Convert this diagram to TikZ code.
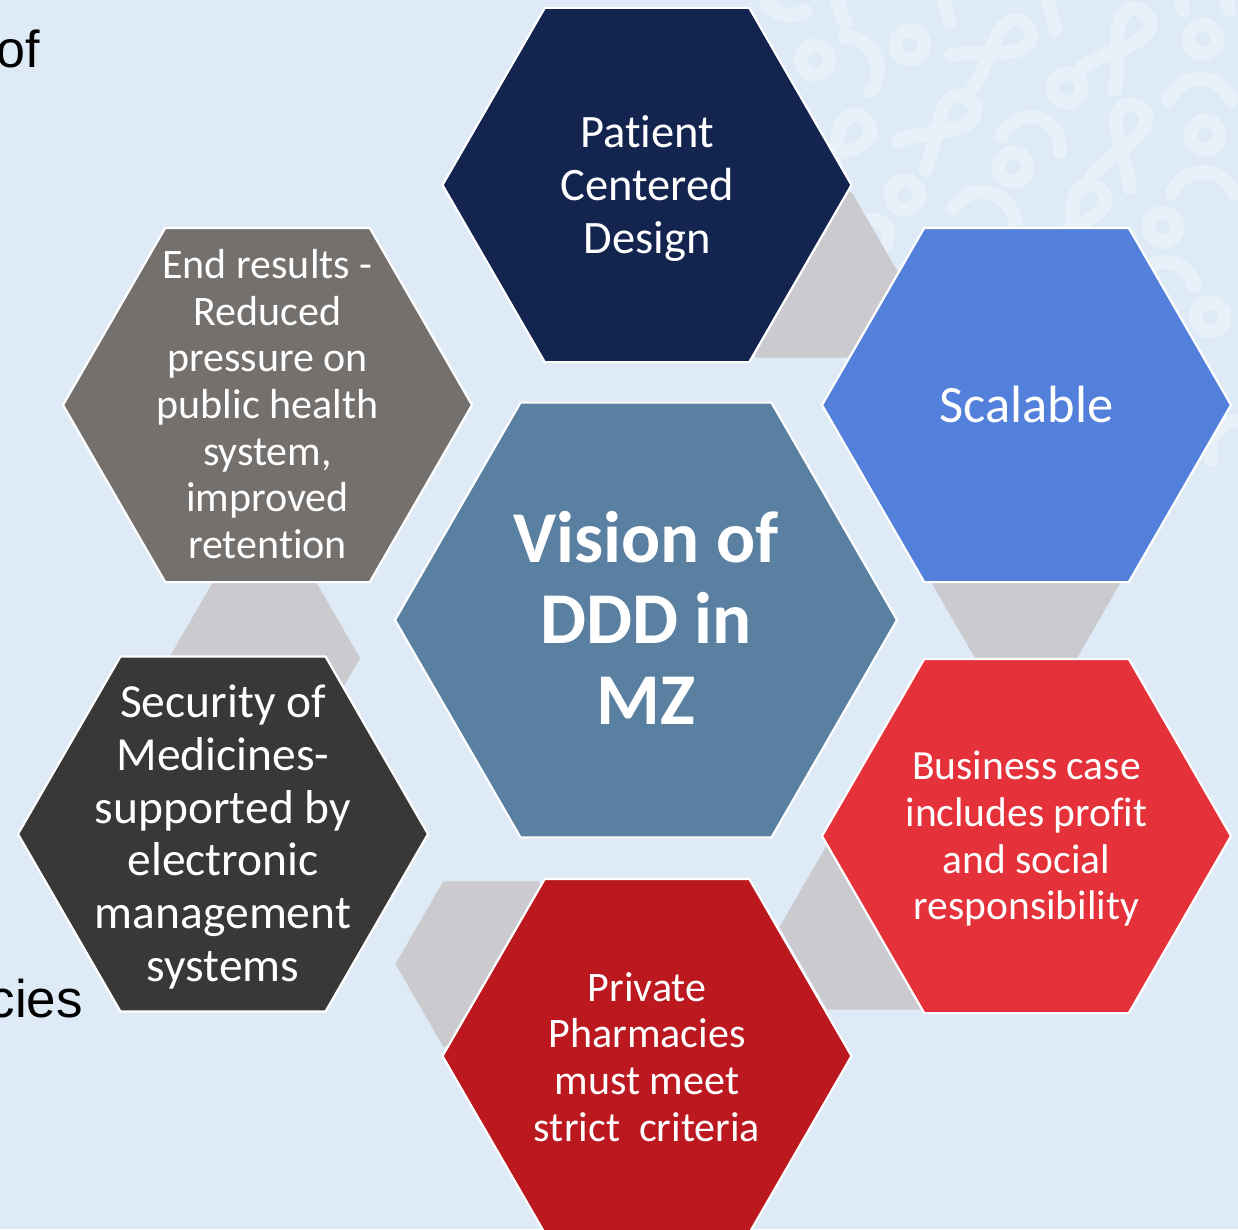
\documentclass[tikz,border=0pt]{standalone}
\usepackage{fontspec}
\setmainfont{Carlito}[Ligatures=NoCommon]
\newfontfamily\arialfont{Liberation Sans}
\definecolor{bgc}{RGB}{222,234,246}
\definecolor{patc}{RGB}{232,240,249}
\definecolor{navyc}{RGB}{19,36,78}
\definecolor{bluec}{RGB}{83,128,219}
\definecolor{redc}{RGB}{229,50,58}
\definecolor{darkredc}{RGB}{187,24,31}
\definecolor{charc}{RGB}{58,56,54}
\definecolor{grayc}{RGB}{116,112,109}
\definecolor{steelc}{RGB}{89,128,161}
\definecolor{linkc}{RGB}{203,203,207}
\newcommand{\hexshape}[4]{%
  \path[#4] ({#1-#3},{#2}) -- ({#1-0.5*#3},{#2-0.8660254*#3}) -- ({#1+0.5*#3},{#2-0.8660254*#3}) -- ({#1+#3},{#2}) -- ({#1+0.5*#3},{#2+0.8660254*#3}) -- ({#1-0.5*#3},{#2+0.8660254*#3}) -- cycle;}
\newcommand{\ribbonat}[3]{%
  \begin{scope}[shift={(#1,#2)},rotate=#3]
    \draw[pat] (-20,62) .. controls (-8,35) and (14,14) .. (15,-2) .. controls (17,-24) and (-17,-24) .. (-15,-2) .. controls (-14,14) and (8,35) .. (20,62);
  \end{scope}}
\newcommand{\patarc}[5]{%
  \draw[pat] ([shift={(#3:#5pt)}]#1,#2) arc[start angle=#3,end angle=#4,radius=#5pt];}
\begin{document}
\begin{tikzpicture}[x=1pt,y=-1pt,
  hexfill/.style={draw=white,line width=2.2pt,line join=miter},
  linkhex/.style={fill=linkc},
  pat/.style={draw=patc,line width=14pt,line cap=round},
  ring/.style={draw=patc,line width=14pt},
  lbl/.style={text=white,align=center,inner sep=0pt},
  sidetext/.style={text=black,inner sep=0pt,font=\arialfont\fontsize{52}{60}\selectfont},
]
\useasboundingbox (0,0) rectangle (1238,1229);
\clip (0,0) rectangle (1238,1229);
\fill[bgc] (0,0) rectangle (1238,1229);

% decorative background pattern (top right)
\begin{scope}
  \clip (760,0) rectangle (1238,600);
  \foreach \px/\py in {815/60, 910/45, 1067/88, 1203/39, 1205/135, 1013/167, 905/195, 1163/227, 1210/317}
    \draw[ring] (\px,\py) circle[radius=14.5pt];
  \ribbonat{1013}{37}{-56}
  \ribbonat{1133}{27}{-34}
  \ribbonat{957}{113}{-47}
  \ribbonat{1130}{123}{-18}
  \ribbonat{853}{133}{-40}
  \ribbonat{1088}{203}{-30}
  \ribbonat{872}{238}{-20}
  \patarc{845}{70}{90}{-40}{33}
  \patarc{1030}{147}{160}{-10}{30}
  \patarc{982}{225}{150}{0}{33}
  \patarc{1200}{112}{160}{20}{33}
  \patarc{1203}{205}{160}{20}{33}
  \patarc{1165}{292}{150}{10}{30}
  \patarc{1240}{450}{100}{200}{30}
  \patarc{790}{-15}{200}{300}{30}
  \draw[pat] (835,-5) -- (845,23);
  \draw[pat] (942,-5) -- (950,23);
  \draw[pat] (1047,-5) -- (1055,30);
  \draw[pat] (1180,-5) -- (1183,10);
  \draw[pat] (1223,-5) -- (1230,10);
\end{scope}

% grey link hexagons (behind)
\hexshape{804}{275}{95.5}{linkhex}
\hexshape{1026}{581}{95.5}{linkhex}
\hexshape{875}{927}{95.5}{linkhex}
\hexshape{491}{964}{95.5}{linkhex}
\hexshape{264.5}{658}{95.5}{linkhex}

% main hexagons
\hexshape{647}{185}{204.5}{hexfill,fill=navyc}
\hexshape{1026.5}{405}{204.5}{hexfill,fill=bluec}
\hexshape{1026.5}{836}{204.5}{hexfill,fill=redc}
\hexshape{647}{1056}{204.5}{hexfill,fill=darkredc}
\hexshape{223}{834}{205}{hexfill,fill=charc}
\hexshape{267.5}{405}{204.5}{hexfill,fill=grayc}
\hexshape{646}{620}{251}{hexfill,fill=steelc}

% texts
\node[lbl,font=\fontsize{46.5}{53}\selectfont] (patient) at (647,188) {Patient\\Centered\\Design};
\node[lbl,font=\fontsize{52.5}{60}\selectfont] (scalable) at (1026.5,404) {Scalable};
\node[lbl,font=\fontsize{41.5}{46.7}\selectfont] (business) at (1026.5,839) {Business case\\includes profit\\and social\\responsibility};
\node[lbl,font=\fontsize{42}{46.7}\selectfont] (private) at (647,1057) {Private\\Pharmacies\\must meet\\strict\ \ criteria};
\node[lbl,font=\fontsize{47.5}{52.8}\selectfont] (security) at (223,837) {Security of\\Medicines-\\supported by\\electronic\\management\\systems};
\node[lbl,font=\fontsize{42}{46.7}\selectfont] (endres) at (267.5,404) {End results -\\Reduced\\pressure on\\public health\\system,\\improved\\retention};
\node[lbl,font=\bfseries\fontsize{73}{81}\selectfont] (vision) at (646,618) {Vision of\\DDD in\\MZ};

\node[sidetext,anchor=base east] (ofword) at (40,67) {of};
\node[sidetext,anchor=base east,font=\arialfont\fontsize{53}{60}\selectfont] (ciesword) at (83,1017) {cies};
\end{tikzpicture}
\end{document}
